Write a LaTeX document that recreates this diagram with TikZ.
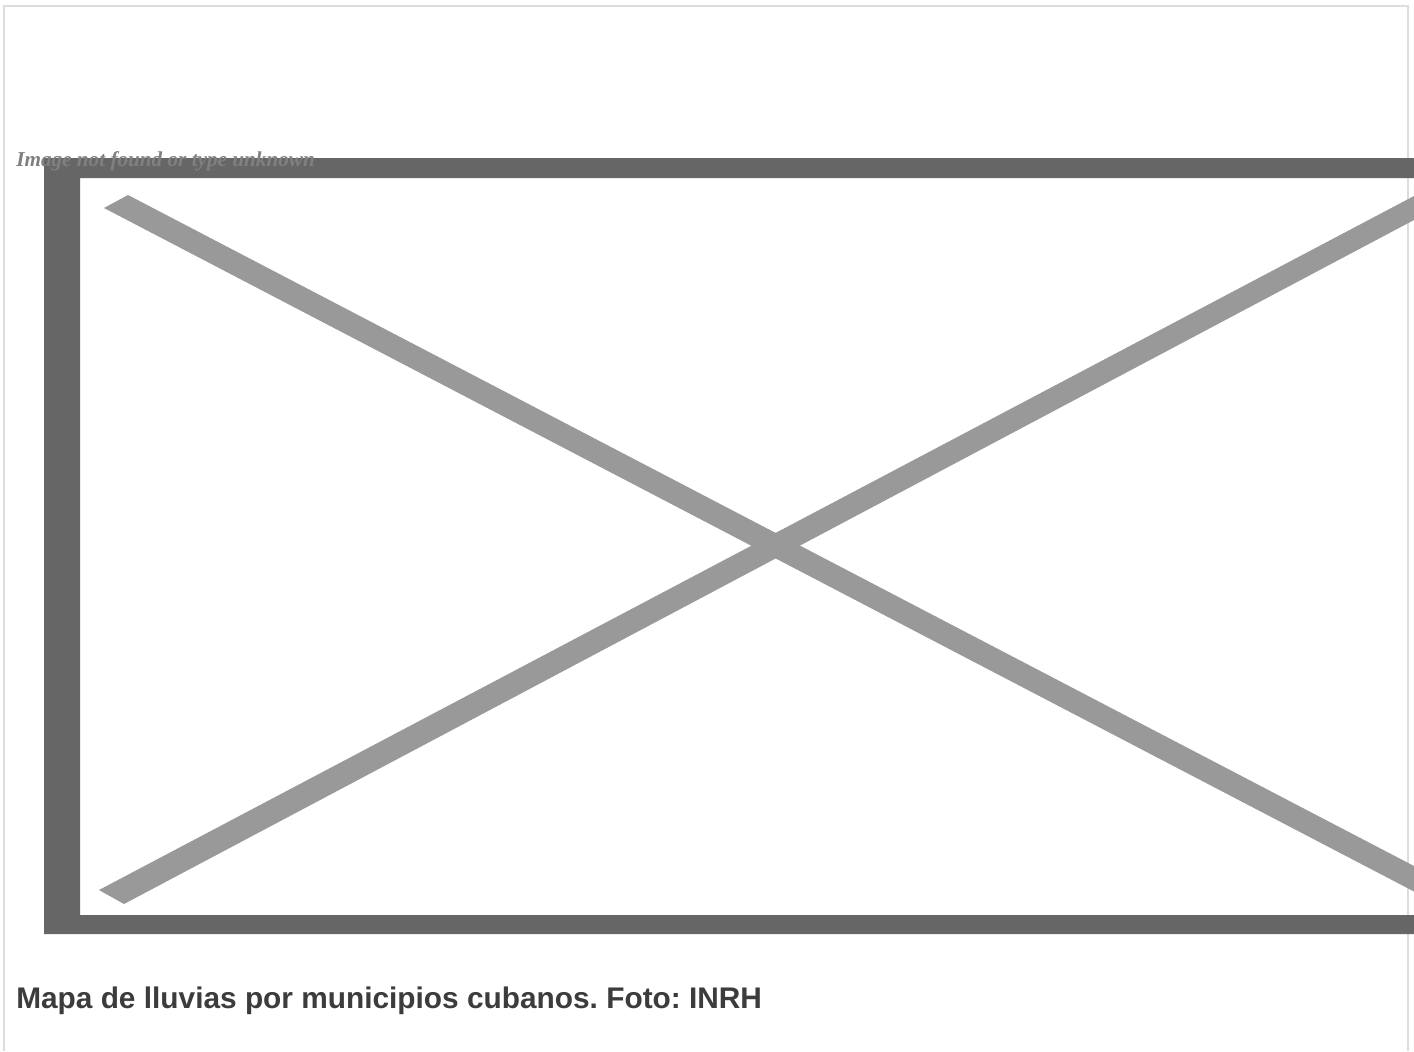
\documentclass[tikz,border=0pt]{standalone}
\usepackage{fontspec}
\setmainfont{Liberation Sans}
\newfontfamily\serifalt{Liberation Serif}
\definecolor{framegray}{HTML}{666666}
\definecolor{crossgray}{HTML}{999999}
\definecolor{bordergray}{HTML}{DDDDDD}
\definecolor{alttext}{HTML}{808080}
\definecolor{captext}{HTML}{3C3C3C}
\tikzset{
  px/.style={x=0.75pt,y=-0.75pt},
  alttextstyle/.style={anchor=base west,inner sep=0pt,text=alttext,font=\serifalt\bfseries\itshape\fontsize{15.9pt}{19pt}\selectfont},
  captionstyle/.style={anchor=base west,inner sep=0pt,text=captext,font=\bfseries\fontsize{22.37pt}{26pt}\selectfont}
}
\frenchspacing
\begin{document}
\begin{tikzpicture}[px]
\useasboundingbox (0,0) rectangle (1414,1051);
\fill[white] (0,0) rectangle (1414,1051);
% page border
\draw[bordergray,line width=1.5pt] (3.9,1051) -- (3.9,6.1) -- (1408.4,6.1) -- (1408.4,1051);
% broken-image frame
\fill[framegray,even odd rule] (44,158) rectangle (1414,934) (80,178) rectangle (1414,915);
% cross
\fill[crossgray] (104,208) -- (128,195) -- (1414,866) -- (1414,891.5) -- cycle;
\fill[crossgray] (99,890) -- (124,904) -- (1414,220) -- (1414,196) -- cycle;
% texts
\node[alttextstyle] (alt) at (16,166.7) {Image not found or type unknown};
\node[captionstyle] (cap) at (16,1008) {Mapa de lluvias por municipios cubanos. Foto: INRH};
\end{tikzpicture}
\end{document}
